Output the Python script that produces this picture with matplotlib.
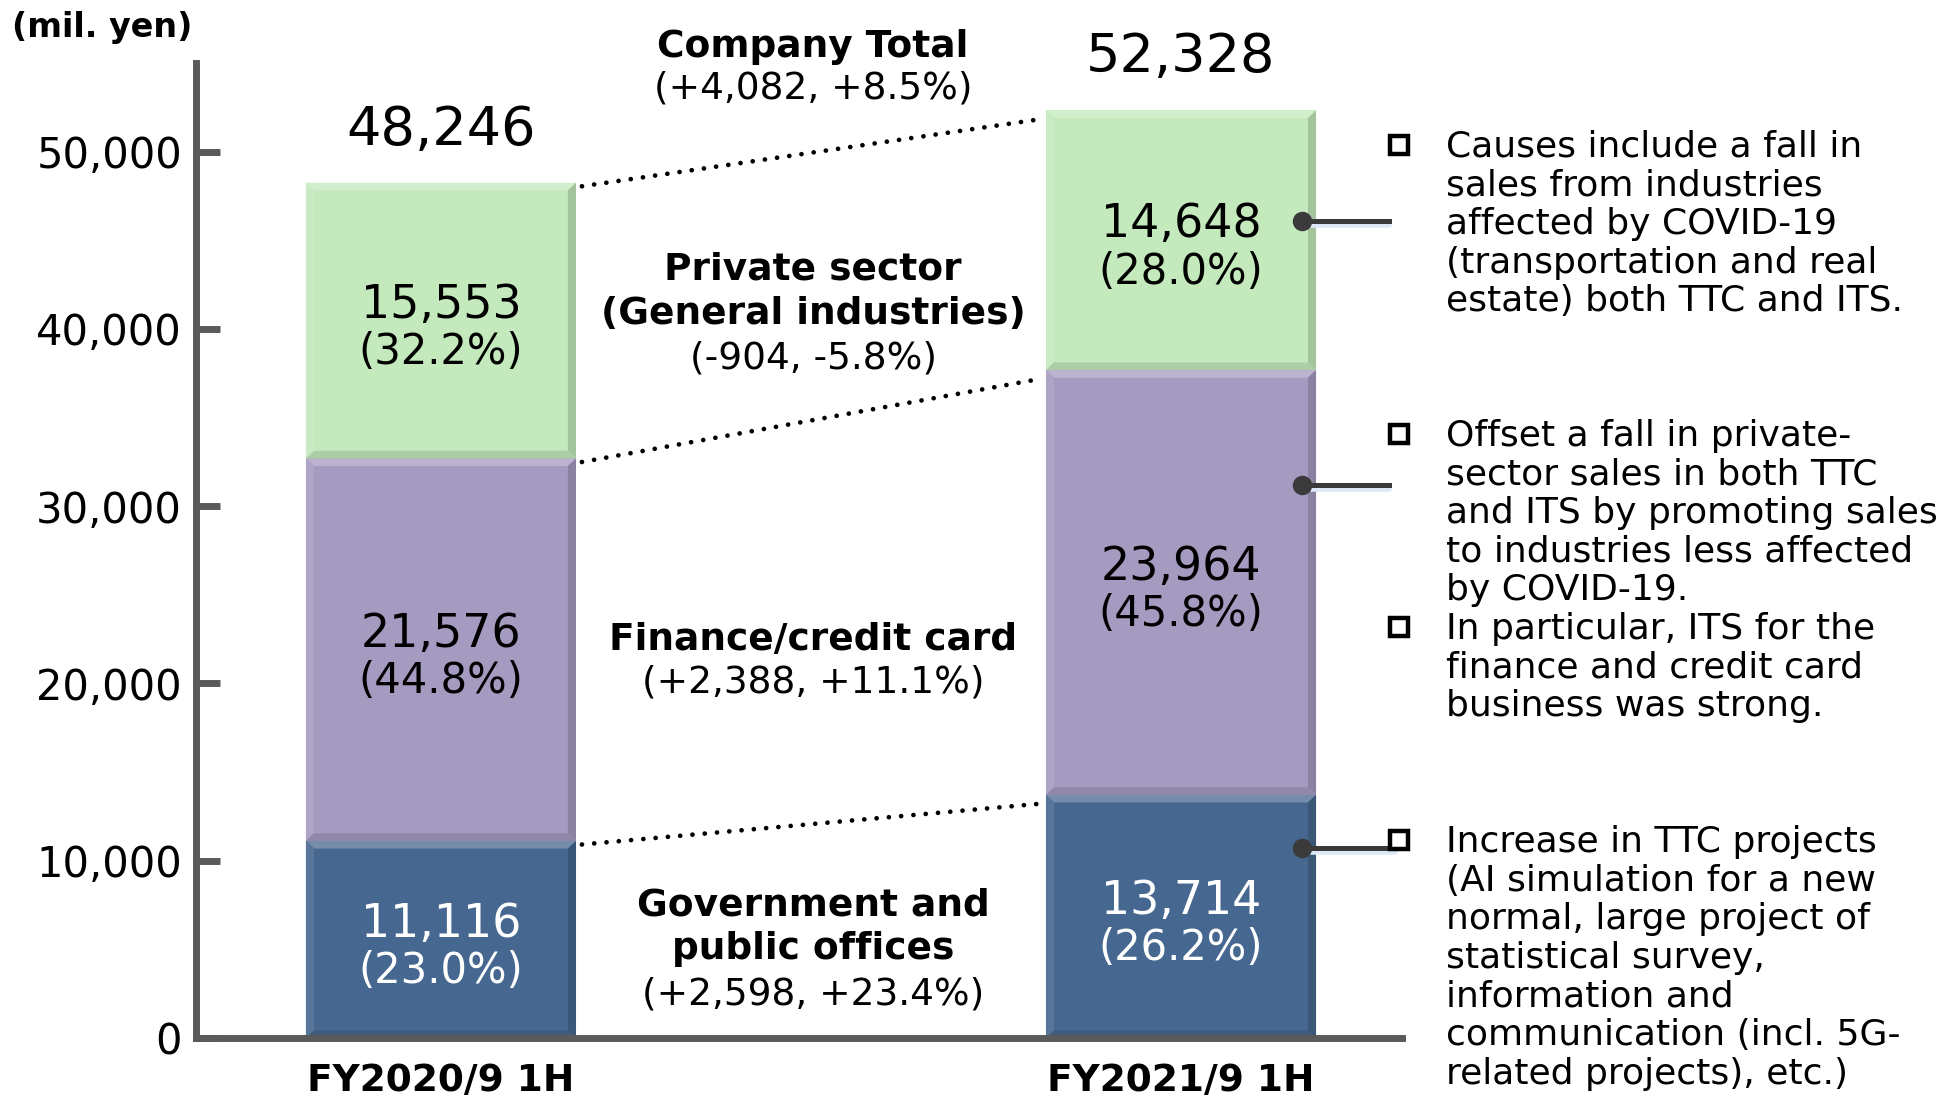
import matplotlib.pyplot as plt
from matplotlib.lines import Line2D
from matplotlib.patches import Polygon
from matplotlib.colors import to_rgb

plt.rcParams['font.family'] = ['DejaVu Sans']

# ---- data --------------------------------------------------------------------
periods = ["FY2020/9 1H", "FY2021/9 1H"]
gov = [11116, 13714]
fin = [21576, 23964]
priv = [15553, 14648]
totals = [48246, 52328]
gov_pct = ["(23.0%)", "(26.2%)"]
fin_pct = ["(44.8%)", "(45.8%)"]
priv_pct = ["(32.2%)", "(28.0%)"]
change_titles = ["Company Total", "Private sector\n(General industries)",
                 "Finance/credit card", "Government and\npublic offices"]
change_values = ["(+4,082, +8.5%)", "(-904, -5.8%)", "(+2,388, +11.1%)",
                 "(+2,598, +23.4%)"]
yticks = [0, 10000, 20000, 30000, 40000, 50000]

notes = [
    ["Causes include a fall in", "sales from industries", "affected by COVID-19",
     "(transportation and real", "estate) both TTC and ITS."],
    ["Offset a fall in private-", "sector sales in both TTC", "and ITS by promoting sales",
     "to industries less affected", "by COVID-19."],
    ["In particular, ITS for the", "finance and credit card", "business was strong."],
    ["Increase in TTC projects", "(AI simulation for a new", "normal, large project of",
     "statistical survey,", "information and", "communication (incl. 5G-",
     "related projects), etc.)"],
]

colors = ["#46678f", "#a59ac0", "#c3e9bc"]
txt_colors = ["white", "black", "black"]


def mix(c, other, t):
    c, o = to_rgb(c), to_rgb(other)
    return tuple(a + (b - a) * t for a, b in zip(c, o))


# ---- figure -------------------------------------------------------------------
W, H = 1950, 1107
fig = plt.figure(figsize=(W / 100, H / 100), dpi=100)
ax = fig.add_axes([196 / W, 1 - 1038 / H, (1402 - 196) / W, (1038 - 63) / H])

x = [0, 1]
w = 0.365
bx, by = 0.011, 430  # bevel size in data units
bottoms = [0, 0]
layers = [(gov, gov_pct), (fin, fin_pct), (priv, priv_pct)]
for k, (vals, pcts) in enumerate(layers):
    ax.bar(x, vals, w, bottom=bottoms, color=colors[k], linewidth=0, zorder=2)
    for i in range(2):
        x0, x1 = x[i] - w / 2, x[i] + w / 2
        y0, y1 = bottoms[i], bottoms[i] + vals[i]
        bevels = [
            ([(x0, y1), (x1, y1), (x1 - bx, y1 - by), (x0 + bx, y1 - by)], mix(colors[k], "white", 0.25)),
            ([(x0, y0), (x0, y1), (x0 + bx, y1 - by), (x0 + bx, y0 + by)], mix(colors[k], "white", 0.10)),
            ([(x1, y0), (x1, y1), (x1 - bx, y1 - by), (x1 - bx, y0 + by)], mix(colors[k], "black", 0.16)),
            ([(x0, y0), (x1, y0), (x1 - bx, y0 + by), (x0 + bx, y0 + by)], mix(colors[k], "black", 0.12)),
        ]
        for pts, c in bevels:
            ax.add_patch(Polygon(pts, closed=True, facecolor=c, edgecolor="none", zorder=2.1))
        mid = (y0 + y1) / 2
        ax.text(x[i], mid + 860, f"{vals[i]:,}", ha="center", va="center",
                fontsize=33, color=txt_colors[k], zorder=3)
        ax.text(x[i], mid - 1790, pcts[i], ha="center", va="center",
                fontsize=30, color=txt_colors[k], zorder=3)
    bottoms = [bottoms[i] + vals[i] for i in range(2)]

for i in range(2):
    ax.text(x[i], totals[i] + 3000, f"{totals[i]:,}", ha="center", va="center",
            fontsize=39, zorder=3)

# dotted connectors between the two bars
cum1 = [gov[0], gov[0] + fin[0], totals[0]]
cum2 = [gov[1], gov[1] + fin[1], totals[1]]
for a, b in zip(cum1, cum2):
    ax.plot([x[0] + w / 2 + 0.008, x[1] - w / 2 - 0.008], [a - 200, b - 500],
            color="black", lw=3.4, linestyle=(0, (0.01, 2.6)),
            dash_capstyle="round", zorder=1)

ax.set_xlim(-0.331, 1.2986)
ax.set_ylim(0, 55000)
ax.set_yticks(yticks)
ax.set_yticklabels([f"{v:,}" for v in yticks], fontsize=30)
ax.set_xticks([])
for s in ["top", "right"]:
    ax.spines[s].set_visible(False)
for s in ["left", "bottom"]:
    ax.spines[s].set_color("#5a5a5a")
    ax.spines[s].set_linewidth(5)
ax.tick_params(axis="y", direction="in", length=17, width=5, color="#5a5a5a", pad=10)

for i in range(2):
    ax.text(x[i], -2400, periods[i], ha="center", va="center", fontsize=27,
            fontweight="bold", clip_on=False)

fig.text(12 / W, 1 - 28 / H, "(mil. yen)", ha="left", va="center", fontsize=24,
         fontweight="bold")

# middle annotations of the changes
mid_x = 813 / W
mid_y = [(47, 89), (270, 314, 358), (640, 683), (905, 949, 994)]
for title, chg, ys in zip(change_titles, change_values, mid_y):
    for line, yy in zip(title.split("\n"), ys):
        fig.text(mid_x, 1 - yy / H, line, ha="center", va="center",
                 fontsize=27, fontweight="bold")
    fig.text(mid_x, 1 - ys[-1] / H, chg, ha="center", va="center", fontsize=27)

# callouts on the right
for yc in [221, 485, 848]:
    xe = 1389 if yc != 848 else 1395
    fig.add_artist(Line2D([1308 / W, xe / W], [1 - (yc + 4) / H] * 2,
                          color="#dce7f8", lw=4, solid_capstyle="round"))
    fig.add_artist(Line2D([1302 / W, xe / W], [1 - yc / H] * 2,
                          color="#3a3a3a", lw=3.6))
    fig.add_artist(Line2D([1302 / W], [1 - yc / H], marker="o", markersize=13,
                          color="#3a3a3a"))

note_y = [147, 436, 629, 842]
line_h = 38.6
for lines, y0 in zip(notes, note_y):
    fig.add_artist(Line2D([1399 / W], [1 - (y0 - 2) / H], marker="s", markersize=13,
                          markerfacecolor="white", markeredgecolor="black",
                          markeredgewidth=3.2))
    for j, line in enumerate(lines):
        fig.text(1446 / W, 1 - (y0 + j * line_h) / H, line, ha="left",
                 va="center", fontsize=26)

fig.savefig("out.png", dpi=100)
